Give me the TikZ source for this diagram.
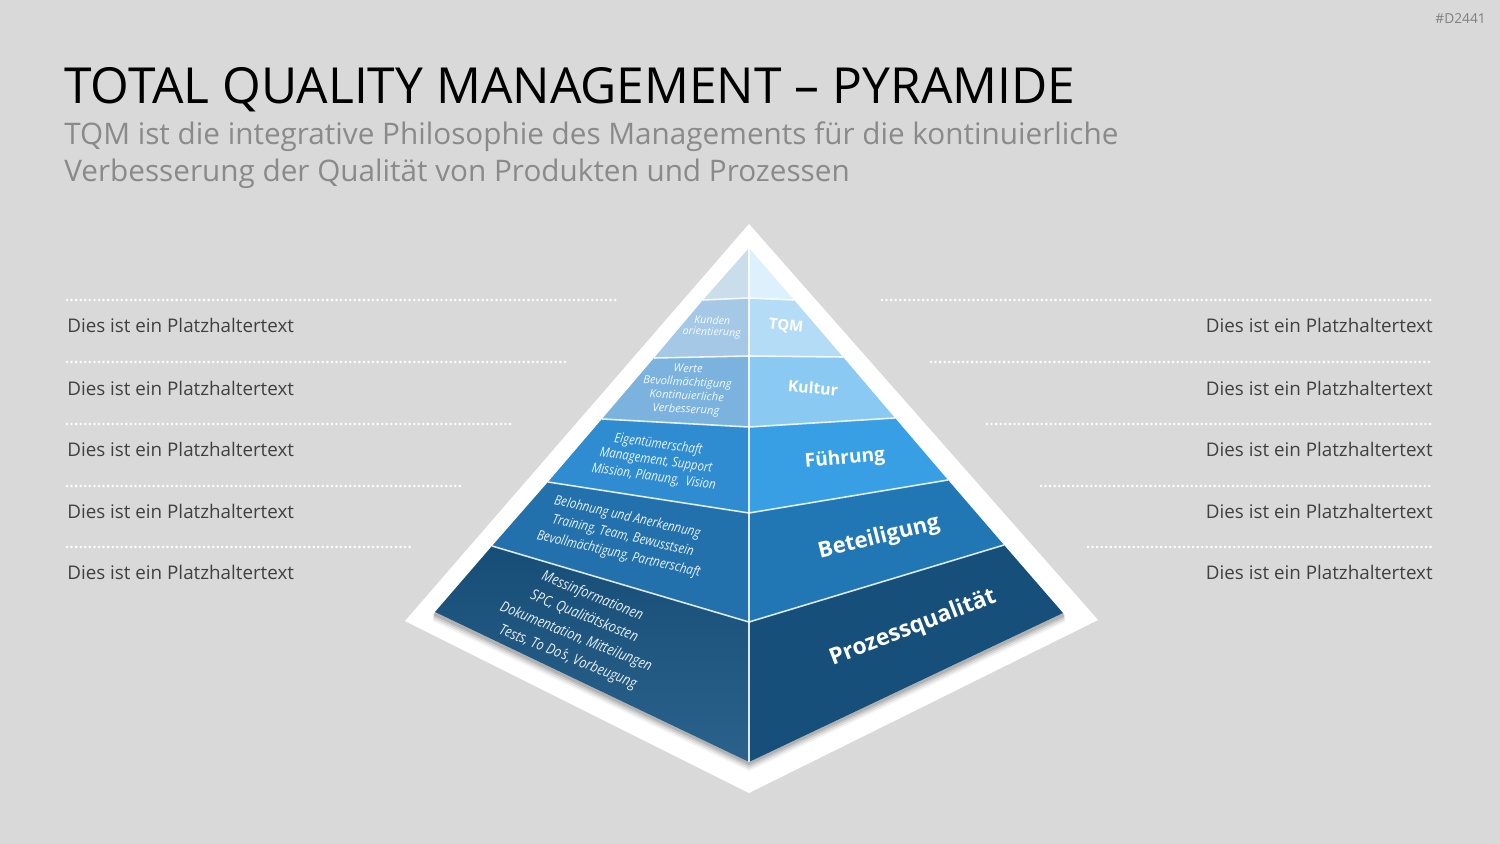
\documentclass[tikz,border=0pt]{standalone}
\usepackage{fontspec}
\setmainfont{Open Sans}
\usetikzlibrary{calc}
\definecolor{bg}{HTML}{D9D9D9}
\definecolor{txtdark}{HTML}{404040}
\definecolor{subgray}{HTML}{8A8A8A}
\definecolor{tag}{HTML}{808080}
\definecolor{lA}{HTML}{CADDEB}
\definecolor{lB}{HTML}{A4C8E5}
\definecolor{lC}{HTML}{7BB3DE}
\definecolor{lD}{HTML}{2F8CD0}
\definecolor{lE}{HTML}{2371AC}
\definecolor{lF}{HTML}{174E78}
\definecolor{lFb}{HTML}{2B628C}
\definecolor{rA}{HTML}{DCF1FC}
\definecolor{rB}{HTML}{B5DCF7}
\definecolor{rC}{HTML}{8ACAF2}
\definecolor{rD}{HTML}{389FE4}
\definecolor{rE}{HTML}{2177B4}
\definecolor{rF}{HTML}{164F79}
\newcommand\pxfont[1]{\fontsize{#1}{1.2\dimexpr#1\relax}\selectfont}
\tikzset{
  dotline/.style={white, line width=1.6pt, line cap=round, dash pattern=on 0pt off 2.6pt},
  placeholder/.style={text=txtdark, font=\pxfont{10.7pt}, inner sep=0pt},
  sep/.style={white, opacity=.85, line width=0.9pt},
  lefttxt/.style 2 args={text=white, opacity=.9, align=center, inner sep=0pt, font=\itshape\fontsize{#1}{#2}\selectfont},
  righttxt/.style={text=white, inner sep=0pt, font=\bfseries\pxfont{#1}},
}
\begin{document}
\begin{tikzpicture}[x=0.02cm, y=-0.02cm]
\fill[bg] (0,0) rectangle (1500,844);
\useasboundingbox (0,0) rectangle (1500,844);
% tag
\node[text=tag, font=\pxfont{7.8pt}, anchor=north east, inner sep=0pt] (tagnode) at (1486,13) {\#D2441};
% title
\node[anchor=base west, inner sep=0pt, font=\pxfont{28.3pt}, text=black] (title) at (64,104) {TOTAL QUALITY MANAGEMENT – PYRAMIDE};
\node[anchor=base west, inner sep=0pt, font=\pxfont{16.9pt}, text=subgray, align=left] (sub1) at (64,145) {TQM ist die integrative Philosophie des Managements für die kontinuierliche};
\node[anchor=base west, inner sep=0pt, font=\pxfont{16.9pt}, text=subgray, align=left] (sub2) at (64,182) {Verbesserung der Qualität von Produkten und Prozessen};

% dotted lines and placeholders
\foreach \y/\xl/\xr in {300/617/882, 362/565/931, 424/513/987, 486/460/1041, 547/411/1088}{
  \draw[dotline] (67,\y) -- (\xl,\y);
  \draw[dotline] (\xr,\y) -- (1433,\y);
}
\foreach \y [count=\i] in {333,395,456,518,579}{
  \node[placeholder, anchor=base west] (pl\i) at (67,\y) {Dies ist ein Platzhaltertext};
  \node[placeholder, anchor=base east] (pr\i) at (1433,\y) {Dies ist ein Platzhaltertext};
}

% white backdrop
\coordinate (WT) at (749,224);
\coordinate (WL) at (405,621);
\coordinate (WB) at (749,793);
\coordinate (WR) at (1098,620);
\fill[white] (WT) -- (WL) -- (WB) -- (WR) -- cycle;

% pyramid points
\coordinate (A) at (749,248);
\coordinate (C1) at (749,298);
\coordinate (C2) at (749,356);
\coordinate (C3) at (749,427);
\coordinate (C4) at (749,513);
\coordinate (C5) at (749,622);
\coordinate (C6) at (749,762);
\coordinate (L1) at (703,300);
\coordinate (L2) at (654,358);
\coordinate (L3) at (602,419);
\coordinate (L4) at (548,482);
\coordinate (L5) at (492,546);
\coordinate (L6) at (435,612);
\coordinate (R1) at (794,300);
\coordinate (R2) at (843,357);
\coordinate (R3) at (895,418);
\coordinate (R4) at (948,480);
\coordinate (R5) at (1004,545);
\coordinate (R6) at (1063,613);

% shadow
\foreach \o/\op in {9/0.05,7/0.07,5/0.09,3/0.12}{
  \fill[black, opacity=\op] ($(L6)+(-2,\o)$) -- ($(C6)+(0,\o)$) -- ($(R6)+(2,\o)$) -- (R6) -- (C6) -- (L6) -- cycle;
}

% left face
\fill[lA] (A) -- (L1) -- (C1) -- cycle;
\fill[lB] (L1) -- (L2) -- (C2) -- (C1) -- cycle;
\fill[lC] (L2) -- (L3) -- (C3) -- (C2) -- cycle;
\fill[lD] (L3) -- (L4) -- (C4) -- (C3) -- cycle;
\fill[lE] (L4) -- (L5) -- (C5) -- (C4) -- cycle;
\shade[top color=lF, bottom color=lFb] (L5) -- (L6) -- (C6) -- (C5) -- cycle;
% right face
\fill[rA] (A) -- (R1) -- (C1) -- cycle;
\fill[rB] (R1) -- (R2) -- (C2) -- (C1) -- cycle;
\fill[rC] (R2) -- (R3) -- (C3) -- (C2) -- cycle;
\fill[rD] (R3) -- (R4) -- (C4) -- (C3) -- cycle;
\fill[rE] (R4) -- (R5) -- (C5) -- (C4) -- cycle;
\fill[rF] (R5) -- (R6) -- (C6) -- (C5) -- cycle;
% separators
\draw[sep] (A) -- (C6);
\foreach \i in {1,...,5}{ \draw[sep] (L\i) -- (C\i) -- (R\i); }

% left face texts
\node[lefttxt={6.1pt}{6.4pt}, rotate=-2] (t1) at (712,327) {Kunden\\orientierung};
\node[lefttxt={6.4pt}{7.7pt}, rotate=-3] (t2) at (687,390) {Werte\\Bevollmächtigung\\Kontinuierliche\\Verbesserung};
\node[lefttxt={7.7pt}{9.4pt}, rotate=-8, xscale=.85] (t3) at (656,461) {Eigentümerschaft\\Management, Support\\Mission, Planung,~ Vision};
\node[lefttxt={7.8pt}{10.8pt}, rotate=-13, xscale=.85] (t4) at (623,536) {Belohnung und Anerkennung\\Training, Team, Bewusstsein\\Bevollmächtigung, Partnerschaft};
\node[lefttxt={8.45pt}{12.5pt}, rotate=-22, xscale=.85] (t5) at (580,627) {Messinformationen\\SPC, Qualitätskosten\\Dokumentation, Mitteilungen\\Tests, To Do\kern0.6pt\char"00B4\kern0.4pt s, Vorbeugung};

% right face texts
\node[righttxt=8.5pt, rotate=-7] (q1) at (786,326) {TQM};
\node[righttxt=9pt, rotate=-5] (q2) at (813,388) {Kultur};
\node[righttxt=10.9pt, rotate=5] (q3) at (845,459) {Führung};
\node[righttxt=12.5pt, rotate=14] (q4) at (879,538) {Beteiligung};
\node[righttxt=13pt, rotate=21] (q5) at (913,628) {Prozessqualität};
\end{tikzpicture}
\end{document}
